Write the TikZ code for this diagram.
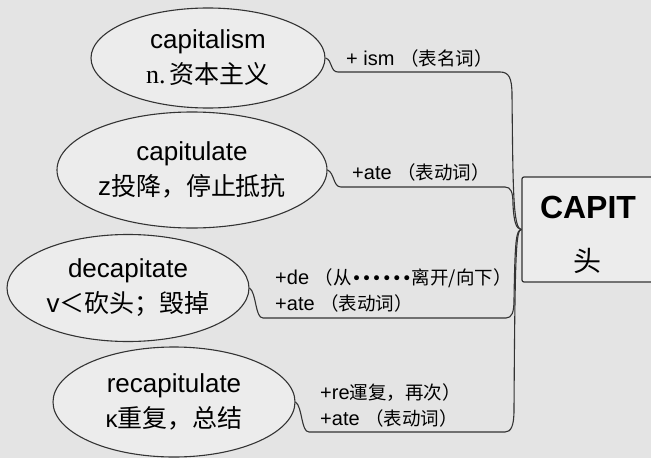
\documentclass[tikz,border=0pt]{standalone}
\usepackage{fontspec}
\setmainfont{Liberation Sans}
\newfontfamily\cjk{Noto Sans CJK SC}
\newfontfamily\latinserif{Liberation Serif}
\newfontfamily\dotfont{DejaVu Sans}
\usetikzlibrary{shapes.geometric,positioning}
\definecolor{bg}{HTML}{E4E4E4}
\definecolor{ink}{HTML}{333333}
\newcommand{\zh}[1]{{\cjk\fontsize{18.5}{26}\selectfont #1}}
\newcommand{\zhbig}[1]{{\cjk\fontsize{25}{35}\selectfont #1}}
\tikzset{
  word/.style={ellipse, draw=ink, line width=1.1pt, fill=bg!70!white, inner sep=0pt,
    align=center, font=\fontsize{26}{35}\selectfont},
  suffix/.style={anchor=west, inner sep=0pt, align=left, font=\fontsize{20}{26}\selectfont},
  link/.style={draw=ink, line width=1.1pt}
}
\begin{document}
\begin{tikzpicture}[x=1pt,y=-1pt]
\fill[bg] (0,0) rectangle (651,458);
\clip (0,0) rectangle (651,458);

% root box
\node[draw=ink, line width=1.2pt, rounded corners=2pt, fill=bg!70!white,
  minimum width=170pt, minimum height=105pt] (capit) at (607,229.5) {};
\node[font=\bfseries\fontsize{32}{32}\selectfont] (capitword) at (588,207) {CAPIT};
\node[font=\cjk\fontsize{28}{28}\selectfont] (capitzh) at (587,261) {头};
\coordinate (hub) at (capit.west);

% words
\node[word, minimum width=234pt, minimum height=100pt] (capitalism) at (208,58)
  {capitalism\\{\latinserif n.}\,\zhbig{资本主义}};
\node[word, minimum width=270pt, minimum height=116pt] (capitulate) at (192,170)
  {capitulate\\z\zhbig{投降，停止抵抗}};
\node[word, minimum width=242pt, minimum height=107pt] (decapitate) at (128,288)
  {decapitate\\v\zhbig{＜砍头；毁掉}};
\node[word, minimum width=242pt, minimum height=110pt] (recapitulate) at (174,402)
  {recapitulate\\{\fontsize{24}{35}\selectfont κ}\zhbig{重复，总结}};

% suffixes
\node[suffix] (ism) at (346,58) {+ ism \zh{（表名词）}};
\node[suffix] (ate) at (352,172) {+ate \zh{（表动词）}};
\node[suffix] (de) at (275,290)
  {+de \zh{（从}{\dotfont\fontsize{17}{26}\selectfont ••••••}\zh{离开/向下）}\\+ate \zh{（表动词）}};
\node[suffix] (re) at (320,405) {+re\zh{運复，再次）}\\+ate \zh{（表动词）}};

% connectors
\draw[link] (capitalism.east) .. controls +(7,2) and +(-8,0) .. (338,72) -- (500,72)
  .. controls (509,72) and (512,78) .. (512,95) .. controls (513,190) and (513,229) .. (hub);
\draw[link] (capitulate.east) .. controls +(7,3) and +(-8,0) .. (341,187) -- (505,187)
  .. controls (511,187) and (513,192) .. (513,205) .. controls (514,222) and (516,229) .. (hub);
\draw[link] (decapitate.east) .. controls +(7,5) and +(-8,0) .. (263,318) -- (506,318)
  .. controls (512,318) and (514,312) .. (514,300) .. controls (515,240) and (516,230) .. (hub);
\draw[link] (recapitulate.east) .. controls +(7,5) and +(-8,0) .. (309,432) -- (505,432)
  .. controls (511,432) and (514,426) .. (514,410) .. controls (515,250) and (516,230) .. (hub);
\end{tikzpicture}
\end{document}
